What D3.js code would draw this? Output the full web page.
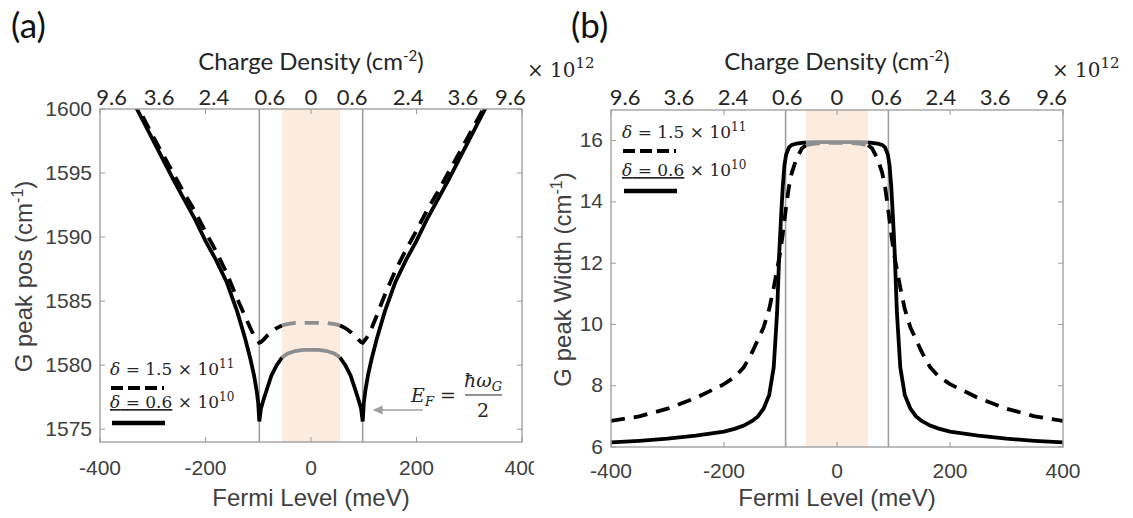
<!DOCTYPE html>
<html>
<head>
<meta charset="utf-8">
<script src="https://cdn.jsdelivr.net/npm/d3@7"></script>
<style>
  body { margin: 0; background: #fff; }
  svg { display: block; }
</style>
</head>
<body>
<script>
// Fermi level samples (meV) and G peak values
const energyA = [-340, -320, -300, -280, -260, -240, -220, -200, -180, -160, -140, -125, -115, -108, -103, -100, -98, -95, -90, -83, -75, -65, -55, -45, -30, -15, 0,
                 15, 30, 45, 55, 65, 75, 83, 90, 95, 98, 100, 103, 108, 115, 125, 140, 160, 180, 200, 220, 240, 260, 280, 300, 320, 340];
const posSolid = [1600.8, 1599.2, 1597.6, 1596.0, 1594.4, 1592.9, 1591.4, 1589.7, 1588.2, 1586.5, 1584.2, 1582.1, 1580.5, 1579.2, 1578.0, 1577.0, 1575.6, 1576.6, 1577.3, 1578.2, 1579.2, 1580.0, 1580.6, 1580.9, 1581.1, 1581.2, 1581.2,
                  1581.2, 1581.1, 1580.9, 1580.6, 1580.0, 1579.2, 1578.2, 1577.3, 1576.6, 1575.6, 1577.0, 1578.0, 1579.2, 1580.5, 1582.1, 1584.2, 1586.5, 1588.2, 1589.7, 1591.4, 1592.9, 1594.4, 1596.0, 1597.6, 1599.2, 1600.8];
const posDashed = [1601.0, 1599.5, 1597.9, 1596.4, 1594.9, 1593.4, 1592.0, 1590.4, 1588.9, 1587.2, 1585.2, 1583.8, 1582.9, 1582.3, 1582.0, 1581.85, 1581.75, 1581.8, 1582.0, 1582.3, 1582.6, 1582.9, 1583.1, 1583.2, 1583.3, 1583.3, 1583.3,
                   1583.3, 1583.3, 1583.2, 1583.1, 1582.9, 1582.6, 1582.3, 1582.0, 1581.8, 1581.75, 1581.85, 1582.0, 1582.3, 1582.9, 1583.9, 1585.5, 1587.4, 1589.0, 1590.5, 1592.1, 1593.5, 1595.0, 1596.5, 1598.0, 1599.5, 1601.0];

const energyB = [-400, -350, -300, -250, -200, -180, -165, -150, -140, -130, -120, -112, -106, -102, -99, -96, -93, -90, -85, -80, -72, -62, -55, -40, -20, 0,
                 20, 40, 55, 62, 72, 80, 85, 90, 93, 96, 99, 102, 106, 112, 120, 130, 140, 150, 165, 180, 200, 250, 300, 350, 400];
const widthSolid = [6.15, 6.2, 6.27, 6.37, 6.5, 6.6, 6.7, 6.85, 7.0, 7.25, 7.7, 8.6, 10.4, 12.4, 13.5, 14.5, 15.2, 15.55, 15.78, 15.86, 15.9, 15.93, 15.94, 15.95, 15.95, 15.95,
                    15.95, 15.95, 15.94, 15.93, 15.9, 15.86, 15.78, 15.55, 15.2, 14.5, 13.5, 12.4, 10.4, 8.6, 7.7, 7.25, 7.0, 6.85, 6.7, 6.6, 6.5, 6.37, 6.27, 6.2, 6.15];
const widthDashed = [6.85, 7.0, 7.25, 7.6, 8.05, 8.3, 8.6, 9.1, 9.5, 9.9, 10.5, 11.2, 11.8, 12.2, 12.55, 12.95, 13.4, 13.85, 14.5, 14.95, 15.4, 15.75, 15.85, 15.9, 15.93, 15.93,
                     15.93, 15.9, 15.85, 15.75, 15.4, 14.95, 14.5, 13.85, 13.4, 12.95, 12.55, 12.2, 11.8, 11.2, 10.5, 9.9, 9.5, 9.1, 8.6, 8.3, 8.05, 7.6, 7.25, 7.0, 6.85];

const xTicks = [-400, -200, 0, 200, 400];
const yTicksA = [1575, 1580, 1585, 1590, 1595, 1600];
const yTicksB = [6, 8, 10, 12, 14, 16];
const topTickLabels = ["9.6", "3.6", "2.4", "0.6", "0", "0.6", "2.4", "3.6", "9.6"];
const topTickMeVA = [-378, -288, -184, -78, 0, 78, 184, 288, 378];
const topTickMeVB = [-375, -280, -184, -88, 0, 88, 184, 280, 380];
const bandMeV = [-55, 55];
const halfPhononA = 98, halfPhononB = 91;

const ARIAL = "'Liberation Sans', Arial, Helvetica, sans-serif";
const CALIB = "Lato, 'Noto Sans', sans-serif";
const MATH = "'DejaVu Serif', 'Liberation Serif', serif";

const svg = d3.select("body").append("svg")
    .attr("width", 1133).attr("height", 518);

function txt(sel, family, size, fill) {
  return sel.style("font-family", family).style("font-size", size + "px").style("fill", fill);
}

function drawPanel(o) {
  const x = d3.scaleLinear().domain([-400, 400]).range([o.left, o.right]);
  const y = d3.scaleLinear().domain(o.yDomain).range([o.bottom, o.top]);
  const g = svg.append("g");

  g.append("clipPath").attr("id", o.id + "clip")
    .append("rect").attr("x", o.left).attr("y", o.top)
    .attr("width", o.right - o.left).attr("height", o.bottom - o.top);

  // doped band
  g.append("rect")
    .attr("x", x(bandMeV[0])).attr("y", o.top)
    .attr("width", x(bandMeV[1]) - x(bandMeV[0])).attr("height", o.bottom - o.top)
    .attr("fill", "#fcebdf");

  // E_F = hbar omega / 2 lines
  [-o.half, o.half].forEach(e => {
    g.append("line").attr("x1", x(e)).attr("x2", x(e))
      .attr("y1", o.top).attr("y2", o.bottom)
      .attr("stroke", "#a0a0a0").attr("stroke-width", 1.6);
  });

  const line = d3.line().x(d => x(d[0])).y(d => y(d[1]));
  const plot = g.append("g").attr("clip-path", "url(#" + o.id + "clip)");

  function curve(vals, dash) {
    const pts = o.energy.map((e, i) => [e, vals[i]]);
    const segs = [
      [pts.filter(p => p[0] <= bandMeV[0]), "#000"],
      [pts.filter(p => p[0] >= bandMeV[0] && p[0] <= bandMeV[1]), "#8e8e8e"],
      [pts.filter(p => p[0] >= bandMeV[1]), "#000"]
    ];
    segs.forEach(s => {
      plot.append("path").datum(s[0])
        .attr("d", line)
        .attr("fill", "none")
        .attr("stroke", s[1])
        .attr("stroke-width", 3.8)
        .attr("stroke-dasharray", dash ? "14,9" : null);
    });
  }
  curve(o.dashed, true);
  curve(o.solid, false);

  // box
  g.append("rect").attr("x", o.left).attr("y", o.top)
    .attr("width", o.right - o.left).attr("height", o.bottom - o.top)
    .attr("fill", "none").attr("stroke", "#9a9a9a").attr("stroke-width", 1.3);

  // ticks pointing inward on all sides
  xTicks.forEach(t => {
    g.append("line").attr("x1", x(t)).attr("x2", x(t)).attr("y1", o.bottom).attr("y2", o.bottom - 5)
      .attr("stroke", "#9a9a9a");
    g.append("line").attr("x1", x(t)).attr("x2", x(t)).attr("y1", o.top).attr("y2", o.top + 5)
      .attr("stroke", "#9a9a9a");
  });
  o.yTicks.forEach(t => {
    g.append("line").attr("x1", o.left).attr("x2", o.left + 5).attr("y1", y(t)).attr("y2", y(t))
      .attr("stroke", "#9a9a9a");
    g.append("line").attr("x1", o.right).attr("x2", o.right - 5).attr("y1", y(t)).attr("y2", y(t))
      .attr("stroke", "#9a9a9a");
  });

  const xl = g.append("g");
  if (o.cutLabels) {
    g.append("clipPath").attr("id", o.id + "cut")
      .append("rect").attr("x", 0).attr("y", 0).attr("width", o.cutLabels).attr("height", 518);
    xl.attr("clip-path", "url(#" + o.id + "cut)");
  }
  txt(xl.selectAll("text").data(xTicks).join("text"), ARIAL, 21, "#404040")
    .attr("x", d => x(d)).attr("y", o.xLabY)
    .attr("text-anchor", "middle")
    .text(d => d);

  txt(g.append("g").selectAll("text").data(o.yTicks).join("text"), ARIAL, 21, "#404040")
    .attr("x", o.left - 8).attr("y", d => y(d) + 6.5)
    .attr("text-anchor", "end")
    .text(d => d);

  txt(g.append("g").selectAll("text").data(o.topTicks).join("text"), CALIB, 22, "#262626")
    .attr("x", d => x(d)).attr("y", 105)
    .attr("text-anchor", "middle")
    .text((d, i) => topTickLabels[i]);

  const mid = (o.left + o.right) / 2;
  txt(g.append("text"), ARIAL, 24, "#404040")
    .attr("x", mid).attr("y", 506)
    .attr("text-anchor", "middle").text("Fermi Level (meV)");

  const tt = txt(g.append("text"), CALIB, 24, "#262626")
    .attr("x", mid).attr("y", 70).attr("text-anchor", "middle");
  tt.append("tspan").text("Charge Density (cm");
  tt.append("tspan").attr("dy", -9).style("font-size", "15px").text("-2");
  tt.append("tspan").attr("dy", 9).text(")");

  const yt = txt(g.append("text"), ARIAL, 24, "#404040")
    .attr("transform", "translate(" + o.yTitleX + "," + ((o.top + o.bottom) / 2 + 1) + ") rotate(-90)")
    .attr("text-anchor", "middle");
  yt.append("tspan").text(o.yTitle + " (cm");
  yt.append("tspan").attr("dy", -9).style("font-size", "16px").text("-1");
  yt.append("tspan").attr("dy", 9).text(")");

  const ex = txt(g.append("text"), MATH, 20, "#262626")
    .attr("x", o.expX).attr("y", 77);
  ex.append("tspan").text("× 10");
  ex.append("tspan").attr("dy", -9).style("font-size", "15px").text("12");

  txt(g.append("text"), CALIB, 35, "#111")
    .attr("x", o.tagX).attr("y", 38).text(o.tag);

  // legend
  const L = o.legend;
  const t1 = txt(g.append("text"), MATH, 17, "#262626").attr("x", L.x).attr("y", L.y1);
  t1.append("tspan").style("font-style", "italic").text("δ");
  t1.append("tspan").text(" = 1.5 × 10");
  t1.append("tspan").attr("dy", -7).style("font-size", "12px").text("11");
  g.append("line").attr("x1", L.x + 1).attr("x2", L.x + 54)
    .attr("y1", L.y1 + 13).attr("y2", L.y1 + 13)
    .attr("stroke", "#000").attr("stroke-width", 4).attr("stroke-dasharray", "12,5");
  const t2 = txt(g.append("text"), MATH, 17, "#262626").attr("x", L.x).attr("y", L.y2);
  t2.append("tspan").style("font-style", "italic").style("text-decoration", "underline").text("δ");
  t2.append("tspan").style("text-decoration", "underline").text(" = 0.6");
  t2.append("tspan").text("  × 10");
  t2.append("tspan").attr("dy", -7).style("font-size", "12px").text("10");
  g.append("line").attr("x1", L.x + 2).attr("x2", L.x + 55)
    .attr("y1", L.y2 + 15).attr("y2", L.y2 + 15)
    .attr("stroke", "#000").attr("stroke-width", 4.5);

  return { x, y, g };
}

const A = drawPanel({
  id: "a", left: 100, right: 522, top: 109, bottom: 442,
  yDomain: [1574, 1600], yTicks: yTicksA, half: halfPhononA,
  energy: energyA, solid: posSolid, dashed: posDashed,
  topTicks: topTickMeVA, yTitle: "G peak pos", yTitleX: 32, xLabY: 475,
  expX: 527, tag: "(a)", tagX: 11, cutLabels: 534,
  legend: { x: 110, y1: 375, y2: 408 }
});

drawPanel({
  id: "b", left: 611, right: 1063, top: 110, bottom: 447,
  yDomain: [6, 17], yTicks: yTicksB, half: halfPhononB,
  energy: energyB, solid: widthSolid, dashed: widthDashed,
  topTicks: topTickMeVB, yTitle: "G peak Width", yTitleX: 571, xLabY: 478,
  expX: 1052, tag: "(b)", tagX: 571,
  legend: { x: 622, y1: 138, y2: 176 }
});

// annotation E_F = hbar omega_G / 2 with arrow
const ann = A.g.append("g");
const ef = txt(ann.append("text"), MATH, 19, "#262626").attr("x", 411).attr("y", 402);
ef.append("tspan").style("font-style", "italic").text("E");
ef.append("tspan").style("font-style", "italic").style("font-size", "13px").attr("dy", 4).text("F");
ef.append("tspan").attr("dy", -4).text(" = ");
const num = txt(ann.append("text"), MATH, 19, "#262626")
  .attr("x", 483).attr("y", 387).attr("text-anchor", "middle");
num.append("tspan").style("font-style", "italic").text("ħω");
num.append("tspan").style("font-style", "italic").style("font-size", "13px").attr("dy", 4).text("G");
ann.append("line").attr("x1", 465).attr("x2", 502).attr("y1", 395).attr("y2", 395)
  .attr("stroke", "#262626").attr("stroke-width", 1.2);
txt(ann.append("text"), MATH, 19, "#262626")
  .attr("x", 483).attr("y", 417).attr("text-anchor", "middle").text("2");

const ay = 410, ax0 = A.x(250) - 20, ax1 = A.x(halfPhononA) + 10;
ann.append("line").attr("x1", ax0).attr("x2", ax1 + 8).attr("y1", ay).attr("y2", ay)
  .attr("stroke", "#a0a0a0").attr("stroke-width", 1.5);
ann.append("path")
  .attr("d", "M" + ax1 + "," + ay + "l10,-4.5v9z")
  .attr("fill", "#a0a0a0");
</script>
</body>
</html>
